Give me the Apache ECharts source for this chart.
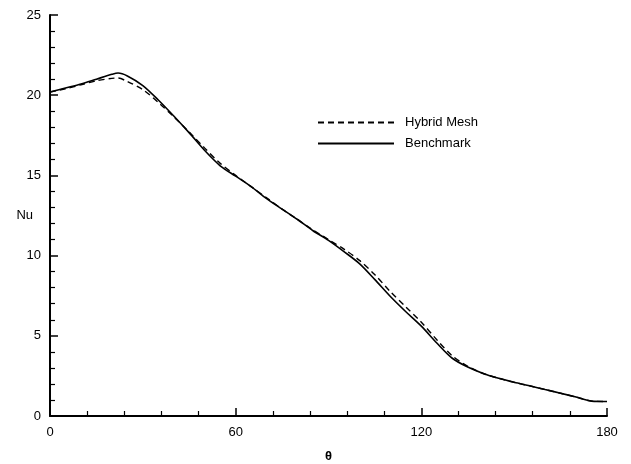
<!DOCTYPE html>
<html>
<head>
<meta charset="utf-8">
<script src="https://cdn.jsdelivr.net/npm/echarts@6/dist/echarts.min.js"></script>
<style>
  html, body { margin: 0; padding: 0; background: #fff; }
  #chart { width: 631px; height: 464px; }
</style>
</head>
<body>
<div id="chart"></div>
<script>
// Local Nusselt number around the cylinder surface vs angle θ
const theta = [0, 5, 10, 15, 20, 22, 25, 30, 35, 40, 45, 50, 55, 60, 65, 70, 75, 80, 85, 90,
  95, 100, 105, 110, 115, 120, 125, 130, 135, 140, 145, 150, 155, 160, 165, 170, 175, 180];

const benchmarkNu = [20.2, 20.45, 20.7, 21.0, 21.3, 21.38, 21.2, 20.6, 19.7, 18.7, 17.65, 16.55, 15.6, 14.95, 14.3, 13.55, 12.9, 12.25, 11.55, 10.95,
  10.25, 9.5, 8.5, 7.45, 6.5, 5.6, 4.55, 3.6, 3.05, 2.65, 2.35, 2.1, 1.88, 1.65, 1.42, 1.18, 0.93, 0.9];

const hybridNu = [20.2, 20.4, 20.65, 20.9, 21.05, 21.07, 20.85, 20.35, 19.55, 18.65, 17.7, 16.7, 15.75, 15.0, 14.3, 13.6, 12.9, 12.25, 11.6, 11.0,
  10.4, 9.7, 8.8, 7.75, 6.8, 5.85, 4.75, 3.75, 3.1, 2.65, 2.35, 2.1, 1.88, 1.65, 1.42, 1.18, 0.93, 0.9];

const seriesNames = ['Hybrid Mesh', 'Benchmark'];

const pairs = (xs, ys) => xs.map((x, i) => [x, ys[i]]);

const font = '"Liberation Sans", Arial, sans-serif';

const chart = echarts.init(document.getElementById('chart'), null, { renderer: 'canvas' });

chart.setOption({
  animation: false,
  backgroundColor: '#fff',
  grid: { left: 50, right: 24, top: 15, bottom: 48, containLabel: false, outerBoundsMode: 'none' },
  legend: {
    orient: 'vertical',
    left: 312,
    top: 111,
    itemWidth: 76,
    itemHeight: 14,
    itemGap: 8,
    data: seriesNames,
    itemStyle: { opacity: 0 },
    textStyle: { color: '#000', fontSize: 13, fontFamily: font, padding: [0, 0, 0, 6] }
  },
  xAxis: {
    type: 'value',
    min: 0, max: 180, interval: 60,
    name: 'θ',
    nameLocation: 'middle',
    nameGap: 34,
    nameMoveOverlap: false,
    nameTextStyle: { color: '#000', fontSize: 13, fontWeight: 'bold', fontFamily: font },
    axisLine: { show: true, lineStyle: { color: '#000', width: 2 } },
    axisTick: { show: true, inside: true, length: 8, lineStyle: { color: '#000', width: 1.5 } },
    minorTick: { show: true, splitNumber: 5, length: 5, lineStyle: { color: '#000', width: 1.2 } },
    axisLabel: { color: '#000', fontSize: 13, fontFamily: font, margin: 10 },
    splitLine: { show: false }
  },
  yAxis: {
    type: 'value',
    min: 0, max: 25, interval: 5,
    name: 'Nu',
    nameLocation: 'middle',
    nameRotate: 0,
    nameGap: 17,
    nameMoveOverlap: false,
    nameTextStyle: { color: '#000', fontSize: 13, fontFamily: font },
    axisLine: { show: true, lineStyle: { color: '#000', width: 2 } },
    axisTick: { show: true, inside: true, length: 8, lineStyle: { color: '#000', width: 1.5 } },
    minorTick: { show: true, splitNumber: 5, length: 5, lineStyle: { color: '#000', width: 1.2 } },
    axisLabel: { color: '#000', fontSize: 13, fontFamily: font, margin: 9 },
    splitLine: { show: false }
  },
  series: [
    {
      name: seriesNames[0],
      type: 'line',
      data: pairs(theta, hybridNu),
      smooth: 0.3,
      showSymbol: false,
      symbol: 'none',
      lineStyle: { color: '#000', width: 1.4, type: [6, 4] },
      itemStyle: { color: '#000' },
      z: 3
    },
    {
      name: seriesNames[1],
      type: 'line',
      data: pairs(theta, benchmarkNu),
      smooth: 0.3,
      showSymbol: false,
      symbol: 'none',
      lineStyle: { color: '#000', width: 1.6, type: 'solid' },
      itemStyle: { color: '#000' },
      z: 2
    }
  ]
});
</script>
</body>
</html>
